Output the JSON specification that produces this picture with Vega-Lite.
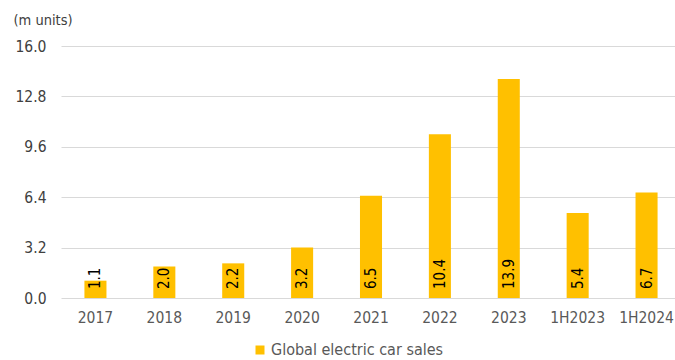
{
  "$schema": "https://vega.github.io/schema/vega-lite/v6.json",
  "autosize": "none",
  "width": 620,
  "height": 252,
  "padding": {"left": 61, "top": 46, "right": 0, "bottom": 62},
  "background": "white",
  "config": {
    "view": {"stroke": null},
    "font": "DejaVu Sans Condensed, DejaVu Sans"
  },
  "data": {
    "values": [
      {"period": "2017", "sales": 1.1, "series": "Global electric car sales"},
      {"period": "2018", "sales": 2.0, "series": "Global electric car sales"},
      {"period": "2019", "sales": 2.2, "series": "Global electric car sales"},
      {"period": "2020", "sales": 3.2, "series": "Global electric car sales"},
      {"period": "2021", "sales": 6.5, "series": "Global electric car sales"},
      {"period": "2022", "sales": 10.4, "series": "Global electric car sales"},
      {"period": "2023", "sales": 13.9, "series": "Global electric car sales"},
      {"period": "1H2023", "sales": 5.4, "series": "Global electric car sales"},
      {"period": "1H2024", "sales": 6.7, "series": "Global electric car sales"}
    ]
  },
  "encoding": {
    "x": {
      "field": "period",
      "type": "nominal",
      "sort": null,
      "scale": {"paddingInner": 0.68, "paddingOuter": 0.34},
      "axis": {
        "title": null,
        "labelAngle": 0,
        "labelFont": "DejaVu Sans Condensed, DejaVu Sans",
        "labelFontSize": 15.5,
        "labelColor": "#595959",
        "labelPadding": 12,
        "ticks": false,
        "domain": false
      }
    },
    "y": {
      "field": "sales",
      "type": "quantitative",
      "scale": {"domain": [0, 16], "nice": false},
      "axis": {
        "values": [0, 3.2, 6.4, 9.6, 12.8, 16],
        "format": ".1f",
        "title": "(m units)",
        "titleAngle": 0,
        "titleX": -48,
        "titleY": -26,
        "titleAlign": "left",
        "titleBaseline": "middle",
        "titleFont": "DejaVu Sans Condensed, DejaVu Sans",
        "titleFontSize": 14.5,
        "titleFontWeight": "normal",
        "titleColor": "#404040",
        "labelFont": "DejaVu Sans Condensed, DejaVu Sans",
        "labelFontSize": 15.5,
        "labelColor": "#404040",
        "labelPadding": 15,
        "ticks": false,
        "domain": false,
        "grid": true,
        "gridColor": "#d9d9d9",
        "gridWidth": 1
      }
    }
  },
  "layer": [
    {
      "mark": {"type": "bar", "color": "#FFC000"},
      "encoding": {
        "color": {
          "field": "series",
          "type": "nominal",
          "scale": {"range": ["#FFC000"]},
          "legend": {
            "title": null,
            "orient": "none",
            "legendX": 191,
            "legendY": 296,
            "symbolType": "square",
            "symbolSize": 81,
            "symbolStrokeWidth": 0,
            "labelFont": "DejaVu Sans Condensed, DejaVu Sans",
            "labelFontSize": 16,
            "labelColor": "#595959",
            "labelOffset": 3,
            "labelLimit": 400
          }
        }
      }
    },
    {
      "mark": {
        "type": "text",
        "angle": 270,
        "align": "left",
        "baseline": "middle",
        "dx": 9,
        "font": "DejaVu Sans Condensed, DejaVu Sans",
        "fontSize": 15,
        "color": "#000000"
      },
      "encoding": {
        "y": {"datum": 0},
        "text": {"field": "sales", "type": "quantitative", "format": ".1f"}
      }
    }
  ]
}
